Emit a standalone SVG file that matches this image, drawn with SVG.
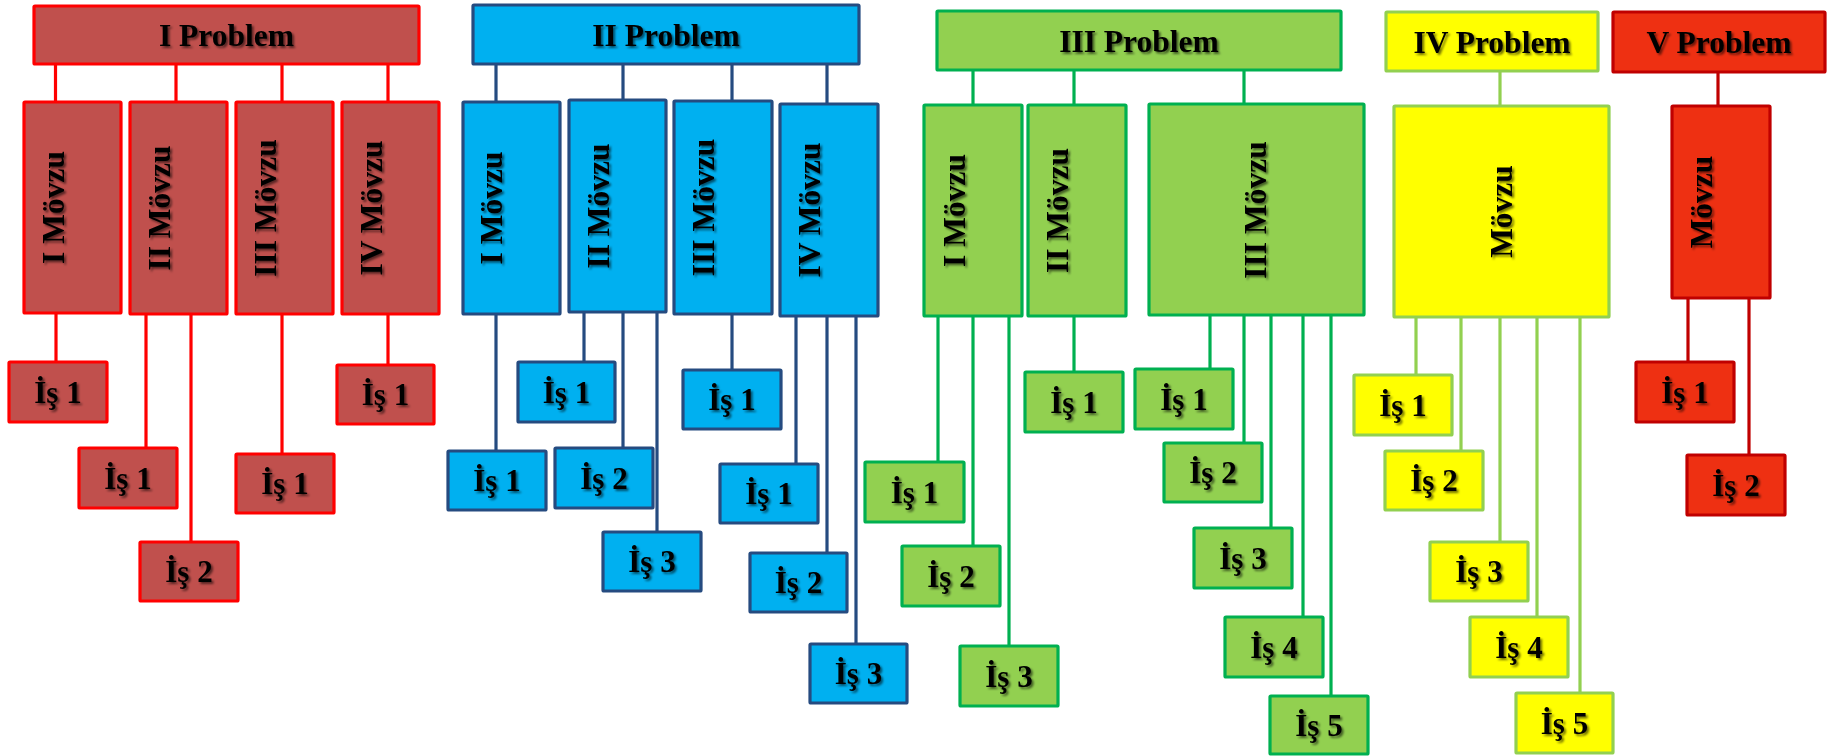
<svg xmlns="http://www.w3.org/2000/svg" width="1829" height="756" viewBox="0 0 1829 756">
<defs>
<filter id="sh" x="-20%" y="-20%" width="140%" height="140%">
<feDropShadow dx="2" dy="2" stdDeviation="1.2" flood-color="#000" flood-opacity="0.55"/>
</filter>
</defs>
<style>
rect{stroke-width:3.2}
.p1 rect{fill:#C0504D;stroke:#FF0000}
.p2 rect{fill:#00B0F0;stroke:#254B80}
.p3 rect{fill:#92D050;stroke:#00B050}
.p4 rect{fill:#FFFF00;stroke:#92D050}
.p5 rect{fill:#EE3012;stroke:#C00000}
#connectors line{stroke-width:3.2;fill:none}
.c1{stroke:#FF0000}.c2{stroke:#254B80}.c3{stroke:#00B050}.c4{stroke:#92D050}.c5{stroke:#C00000}
text{font-family:"Liberation Serif","Times New Roman",serif;font-weight:bold;fill:#000;text-anchor:middle}
.tp{font-size:31.5px}.tm{font-size:31.5px}.tw{font-size:31px}
.s{filter:url(#sh)}
</style>
<rect x="0" y="0" width="1829" height="756" fill="#FFFFFF" style="stroke:none"/>
<g id="connectors">
<g class="c1">
<line x1="55.5" y1="64" x2="55.5" y2="102"/><line x1="176" y1="64" x2="176" y2="102"/><line x1="282" y1="64" x2="282" y2="102"/><line x1="388" y1="64" x2="388" y2="102"/>
<line x1="56" y1="313" x2="56" y2="362"/><line x1="146" y1="314" x2="146" y2="448"/><line x1="191" y1="314" x2="191" y2="542"/><line x1="282" y1="314" x2="282" y2="454"/><line x1="388" y1="314" x2="388" y2="365"/>
</g>
<g class="c2">
<line x1="496" y1="64" x2="496" y2="102"/><line x1="623" y1="64" x2="623" y2="100"/><line x1="732" y1="64" x2="732" y2="101"/><line x1="827" y1="64" x2="827" y2="104"/>
<line x1="496" y1="314" x2="496" y2="451"/><line x1="584" y1="312" x2="584" y2="362"/><line x1="623" y1="312" x2="623" y2="448"/><line x1="657" y1="312" x2="657" y2="532"/><line x1="732" y1="314" x2="732" y2="370"/><line x1="796" y1="316" x2="796" y2="464"/><line x1="827" y1="316" x2="827" y2="553"/><line x1="856" y1="316" x2="856" y2="644"/>
</g>
<g class="c3">
<line x1="973" y1="70" x2="973" y2="105"/><line x1="1074" y1="70" x2="1074" y2="105"/><line x1="1244" y1="70" x2="1244" y2="104"/>
<line x1="938" y1="316" x2="938" y2="462"/><line x1="973" y1="316" x2="973" y2="546"/><line x1="1009" y1="316" x2="1009" y2="646"/><line x1="1074" y1="316" x2="1074" y2="372"/>
<line x1="1210" y1="315" x2="1210" y2="369"/><line x1="1244" y1="315" x2="1244" y2="443"/><line x1="1271" y1="315" x2="1271" y2="528"/><line x1="1303" y1="315" x2="1303" y2="617"/><line x1="1331" y1="315" x2="1331" y2="696"/>
</g>
<g class="c4">
<line x1="1500" y1="71" x2="1500" y2="106"/>
<line x1="1416" y1="317" x2="1416" y2="375"/><line x1="1461" y1="317" x2="1461" y2="451"/><line x1="1500" y1="317" x2="1500" y2="542"/><line x1="1537" y1="317" x2="1537" y2="617"/><line x1="1580" y1="317" x2="1580" y2="693"/>
</g>
<g class="c5">
<line x1="1718" y1="72" x2="1718" y2="106"/>
<line x1="1688" y1="298" x2="1688" y2="362"/><line x1="1749" y1="298" x2="1749" y2="455"/>
</g>
</g>

<g class="p1">
<g id="p1"><rect x="34" y="6" width="385" height="58" rx="1"/><text class="tp s" x="226.5" y="46">I Problem</text></g>
<g id="p1m1"><rect x="24" y="102" width="97" height="211" rx="1"/><g class="s"><text class="tm" transform="translate(64,207.5) rotate(-90)">I Mövzu</text></g></g>
<g id="p1m2"><rect x="130" y="102" width="97" height="212" rx="1"/><g class="s"><text class="tm" transform="translate(170,208) rotate(-90)">II Mövzu</text></g></g>
<g id="p1m3"><rect x="236" y="102" width="97" height="212" rx="1"/><g class="s"><text class="tm" transform="translate(276,208) rotate(-90)">III Mövzu</text></g></g>
<g id="p1m4"><rect x="342" y="102" width="97" height="212" rx="1"/><g class="s"><text class="tm" transform="translate(382,208) rotate(-90)">IV Mövzu</text></g></g>
<g id="p1m1w1"><rect x="9" y="362" width="98" height="60" rx="1"/><text class="tw s" x="58" y="402.5">İş 1</text></g>
<g id="p1m2w1"><rect x="79" y="448" width="98" height="60" rx="1"/><text class="tw s" x="128" y="488.5">İş 1</text></g>
<g id="p1m2w2"><rect x="140" y="542" width="98" height="59" rx="1"/><text class="tw s" x="189" y="582">İş 2</text></g>
<g id="p1m3w1"><rect x="236" y="454" width="98" height="59" rx="1"/><text class="tw s" x="285" y="494">İş 1</text></g>
<g id="p1m4w1"><rect x="337" y="365" width="97" height="59" rx="1"/><text class="tw s" x="385.5" y="405">İş 1</text></g>
</g>

<g class="p2">
<g id="p2"><rect x="473" y="5" width="386" height="59" rx="1"/><text class="tp s" x="666" y="45.5">II Problem</text></g>
<g id="p2m1"><rect x="463" y="102" width="97" height="212" rx="1"/><g class="s"><text class="tm" transform="translate(502,208) rotate(-90)">I Mövzu</text></g></g>
<g id="p2m2"><rect x="569" y="100" width="97" height="212" rx="1"/><g class="s"><text class="tm" transform="translate(609,206) rotate(-90)">II Mövzu</text></g></g>
<g id="p2m3"><rect x="674" y="101" width="98" height="213" rx="1"/><g class="s"><text class="tm" transform="translate(714,207.5) rotate(-90)">III Mövzu</text></g></g>
<g id="p2m4"><rect x="780" y="104" width="98" height="212" rx="1"/><g class="s"><text class="tm" transform="translate(820,210) rotate(-90)">IV Mövzu</text></g></g>
<g id="p2m1w1"><rect x="448" y="451" width="98" height="59" rx="1"/><text class="tw s" x="497" y="491">İş 1</text></g>
<g id="p2m2w1"><rect x="518" y="362" width="97" height="60" rx="1"/><text class="tw s" x="566.5" y="402.5">İş 1</text></g>
<g id="p2m2w2"><rect x="555" y="448" width="98" height="60" rx="1"/><text class="tw s" x="604" y="488.5">İş 2</text></g>
<g id="p2m2w3"><rect x="603" y="532" width="98" height="59" rx="1"/><text class="tw s" x="652" y="572">İş 3</text></g>
<g id="p2m3w1"><rect x="683" y="370" width="98" height="59" rx="1"/><text class="tw s" x="732" y="410">İş 1</text></g>
<g id="p2m4w1"><rect x="720" y="464" width="98" height="59" rx="1"/><text class="tw s" x="769" y="504">İş 1</text></g>
<g id="p2m4w2"><rect x="750" y="553" width="97" height="59" rx="1"/><text class="tw s" x="798.5" y="593">İş 2</text></g>
<g id="p2m4w3"><rect x="810" y="644" width="97" height="59" rx="1"/><text class="tw s" x="858.5" y="684">İş 3</text></g>
</g>

<g class="p3">
<g id="p3"><rect x="937" y="11" width="404" height="59" rx="1"/><text class="tp s" x="1139" y="51.5">III Problem</text></g>
<g id="p3m1"><rect x="924" y="105" width="98" height="211" rx="1"/><g class="s"><text class="tm" transform="translate(965,210.5) rotate(-90)">I Mövzu</text></g></g>
<g id="p3m2"><rect x="1028" y="105" width="98" height="211" rx="1"/><g class="s"><text class="tm" transform="translate(1068,210.5) rotate(-90)">II Mövzu</text></g></g>
<g id="p3m3"><rect x="1149" y="104" width="215" height="211" rx="1"/><g class="s"><text class="tm" transform="translate(1266,210) rotate(-90)">III Mövzu</text></g></g>
<g id="p3m1w1"><rect x="865" y="462" width="99" height="60" rx="1"/><text class="tw s" x="914.5" y="502.5">İş 1</text></g>
<g id="p3m1w2"><rect x="902" y="546" width="98" height="60" rx="1"/><text class="tw s" x="951" y="586.5">İş 2</text></g>
<g id="p3m1w3"><rect x="960" y="646" width="98" height="60" rx="1"/><text class="tw s" x="1009" y="686.5">İş 3</text></g>
<g id="p3m2w1"><rect x="1025" y="372" width="98" height="60" rx="1"/><text class="tw s" x="1074" y="412.5">İş 1</text></g>
<g id="p3m3w1"><rect x="1135" y="369" width="98" height="60" rx="1"/><text class="tw s" x="1184" y="409.5">İş 1</text></g>
<g id="p3m3w2"><rect x="1164" y="443" width="98" height="59" rx="1"/><text class="tw s" x="1213" y="483">İş 2</text></g>
<g id="p3m3w3"><rect x="1194" y="528" width="98" height="60" rx="1"/><text class="tw s" x="1243" y="568.5">İş 3</text></g>
<g id="p3m3w4"><rect x="1225" y="617" width="98" height="60" rx="1"/><text class="tw s" x="1274" y="657.5">İş 4</text></g>
<g id="p3m3w5"><rect x="1270" y="696" width="98" height="58" rx="1"/><text class="tw s" x="1319" y="736">İş 5</text></g>
</g>

<g class="p4">
<g id="p4"><rect x="1386" y="12" width="212" height="59" rx="1"/><text class="tp s" x="1492" y="52.5">IV Problem</text></g>
<g id="p4m"><rect x="1394" y="106" width="215" height="211" rx="1"/><g class="s"><text class="tm" transform="translate(1512,211.5) rotate(-90)">Mövzu</text></g></g>
<g id="p4w1"><rect x="1354" y="375" width="98" height="60" rx="1"/><text class="tw s" x="1403" y="415.5">İş 1</text></g>
<g id="p4w2"><rect x="1385" y="451" width="98" height="59" rx="1"/><text class="tw s" x="1434" y="491">İş 2</text></g>
<g id="p4w3"><rect x="1430" y="542" width="98" height="59" rx="1"/><text class="tw s" x="1479" y="582">İş 3</text></g>
<g id="p4w4"><rect x="1470" y="617" width="98" height="60" rx="1"/><text class="tw s" x="1519" y="657.5">İş 4</text></g>
<g id="p4w5"><rect x="1516" y="693" width="97" height="60" rx="1"/><text class="tw s" x="1564.5" y="733.5">İş 5</text></g>
</g>

<g class="p5">
<g id="p5"><rect x="1613" y="12" width="212" height="60" rx="1"/><text class="tp s" x="1719" y="53">V Problem</text></g>
<g id="p5m"><rect x="1672" y="106" width="98" height="192" rx="1"/><g class="s"><text class="tm" transform="translate(1712,202) rotate(-90)">Mövzu</text></g></g>
<g id="p5w1"><rect x="1636" y="362" width="98" height="60" rx="1"/><text class="tw s" x="1685" y="402.5">İş 1</text></g>
<g id="p5w2"><rect x="1687" y="455" width="98" height="60" rx="1"/><text class="tw s" x="1736" y="495.5">İş 2</text></g>
</g>
</svg>
